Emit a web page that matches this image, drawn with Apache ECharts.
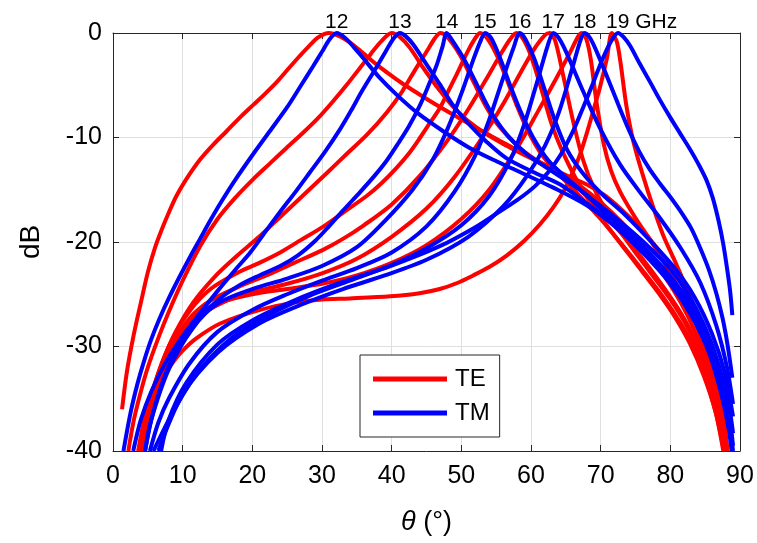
<!DOCTYPE html>
<html>
<head>
<meta charset="utf-8">
<script src="https://cdn.jsdelivr.net/npm/echarts@6/dist/echarts.min.js"></script>
<style>
  html, body { margin: 0; padding: 0; background: #fff; }
  #chart { width: 757px; height: 543px; }
</style>
</head>
<body>
<div id="chart"></div>
<script>
// Reflection (dB) versus incidence angle, TE and TM, 12–19 GHz
const freqs = ['12', '13', '14', '15', '16', '17', '18', '19'];
const peakAngles = [32.1, 41.2, 47.9, 53.4, 58.4, 63.2, 67.7, 72.5];

const te12 = [[1.3,-36],[2,-32.4],[3,-28.8],[4,-25.8],[5,-22.9],[6,-20.6],[7,-18.8],[8,-17.2],[9.1,-15.6],[10.5,-14],[12.5,-12.1],[14.5,-10.6],[16.3,-9.4],[18.2,-8.1],[20.1,-6.9],[22,-5.7],[23.5,-4.7],[25.2,-3.4],[26.8,-2.2],[28.2,-1.2],[29.5,-0.4],[31,0],[32.5,-0.3],[34,-0.9],[35.5,-1.7],[37.8,-3],[40,-4.1],[41.7,-4.9],[45.5,-6.5],[48.8,-7.8],[52.2,-9.1],[55.5,-10.3],[58.8,-11.5],[62,-12.6],[65,-13.6],[68,-14.5],[70.5,-15.5],[73,-16.9],[75.6,-18.6],[78,-20.5],[80.2,-22.5],[82.2,-24.7],[84,-27.2],[85.5,-29.8],[86.7,-32.8],[87.5,-35.8],[88.2,-40]];
const te13 = [[2.2,-40],[3,-37],[4,-34.3],[5,-32],[6.5,-29.2],[8,-26.7],[10,-23.7],[12.5,-20.4],[15,-17.8],[17.5,-15.8],[20.1,-14],[22.5,-12.5],[24.9,-11],[27.2,-9.6],[29.5,-8.1],[31.5,-6.6],[33.5,-5],[35.5,-3.3],[37,-2],[38.5,-0.8],[40,0],[41.2,-0.4],[42.6,-1.4],[44.5,-3.3],[46.9,-5.5],[49.3,-7.4],[52.5,-9.2],[56.5,-10.8],[60.3,-12.1],[64,-13.3],[67,-14.6],[70,-16.2],[73,-18.1],[76,-20.4],[79,-23.1],[81.5,-25.8],[83.5,-28.5],[85.3,-31.6],[86.8,-35.3],[87.9,-40]];
const te14 = [[3.6,-40],[4.5,-37],[5.5,-34.6],[7,-31.6],[9,-28.6],[11.5,-25.8],[14.5,-23.4],[17.5,-21.5],[20.8,-19.6],[24,-17.6],[27.5,-15.4],[30.7,-13.4],[33.5,-11.6],[36.5,-9.7],[39.3,-7.6],[41.5,-5.6],[43.3,-3.6],[45,-1.8],[46.2,-0.5],[47,0],[48,-0.4],[49.8,-2.1],[51.7,-4.6],[53.6,-7.1],[55.5,-9],[58.4,-11],[61.3,-12.4],[64.2,-13.5],[67,-15],[70,-17],[73,-19.2],[76,-21.6],[79,-24.3],[81.5,-26.8],[83.5,-29.3],[85.2,-32.3],[86.7,-35.8],[87.8,-40]];
const te15 = [[3.8,-40],[5,-36],[6.5,-32.6],[8.5,-29.3],[11,-26.6],[14,-24.5],[18,-22.9],[21,-22],[24,-21],[27,-19.8],[30,-18.6],[33,-17.2],[36.4,-15.6],[38.5,-14.4],[40.7,-12.9],[42.5,-11.5],[44.1,-10],[45.5,-8.6],[46.9,-7.2],[48.1,-5.6],[49.3,-4],[50.3,-2.6],[51.2,-1.4],[52,-0.5],[52.7,0],[53.7,-0.5],[55,-2],[56.5,-4.4],[58,-7],[59.5,-9.3],[61.5,-11.6],[64,-13.5],[67,-15.6],[70,-17.8],[73,-20.2],[76,-22.7],[79,-25.3],[81.5,-27.8],[83.5,-30.2],[85.1,-33],[86.6,-36.5],[87.7,-40]];
const te16 = [[4,-40],[5,-36.5],[6.5,-33],[8.5,-29.9],[11,-27.3],[14,-25.6],[18,-24.3],[22,-23.2],[26,-22],[30,-20.8],[33,-19.7],[36,-18.4],[40,-16.4],[44,-13.7],[48,-10.3],[51,-7.3],[53.5,-4.5],[55.5,-2.2],[57,-0.6],[57.9,0],[58.8,-0.5],[60,-2.2],[61.5,-5.4],[63,-8.8],[64.5,-11.3],[66.5,-14],[69,-16.7],[72,-19.4],[75,-22],[78,-24.6],[80.5,-27],[82.8,-29.7],[84.8,-32.8],[86.5,-36.3],[87.6,-40]];
const te17 = [[4,-40],[5.2,-36.5],[6.8,-33],[9,-29.8],[12,-27.3],[16,-25.7],[20,-24.8],[25,-24],[30,-23],[35,-21.6],[40,-19.5],[45,-16.8],[49,-13.8],[53,-10],[56,-6.8],[58.5,-3.8],[60.5,-1.5],[62,-0.2],[62.7,0],[63.5,-0.8],[64.6,-4],[66.1,-8.6],[67.5,-12.2],[69,-14.8],[71,-17.2],[74,-20.1],[77,-22.8],[80,-25.5],[82.5,-28.2],[84.5,-31],[86.1,-34.2],[87.3,-37.5],[87.9,-40]];
const te18 = [[3.8,-40],[5,-36.5],[6.5,-33],[8.5,-30],[11,-27.6],[15,-25.9],[20,-25],[25,-24.5],[30,-24],[35,-23.2],[40,-22],[45,-20.3],[50,-17.8],[54,-15],[58,-11],[61,-7.5],[63.5,-4.5],[65.5,-2],[66.8,-0.3],[67.3,0],[68,-0.7],[68.6,-2.6],[69.4,-6.6],[70.4,-10.5],[71.5,-13.2],[72.8,-15.2],[75,-17.7],[77.5,-20.2],[80,-23],[82.5,-26],[84.5,-29.3],[86.1,-33],[87.3,-36.8],[88,-40]];
const te19 = [[3.9,-40],[4.8,-37],[5.8,-34.8],[7,-33],[8.5,-31.6],[10,-30.4],[12,-29.2],[15.4,-27.8],[21.1,-26.5],[26,-25.8],[30,-25.5],[34,-25.4],[39.8,-25.2],[44,-24.9],[46.9,-24.5],[49.5,-23.9],[51.7,-23.2],[54,-22.4],[56.5,-21.3],[59,-19.9],[61.3,-18.3],[63.3,-16.6],[64.8,-15],[66,-13.3],[67,-11.7],[68,-9.6],[69,-7.3],[69.9,-5.2],[70.9,-2.4],[71.6,0],[72.3,-0.8],[72.8,-2.6],[73.7,-7],[74.7,-10.4],[76.1,-13.7],[77.5,-16.6],[79,-19.4],[80.9,-22.2],[83,-25.5],[84.8,-29],[86.3,-33],[87.5,-37],[88.2,-40]];

const tm12 = [[1.5,-40],[2.5,-36.4],[3.5,-33.6],[4.5,-31.3],[5.5,-29.3],[6.7,-27.3],[8,-25.4],[9.5,-23.4],[11,-21.5],[12.5,-19.7],[14,-17.9],[15.5,-16.2],[17.5,-14.1],[20,-11.7],[22.5,-9.4],[25,-7.1],[27,-5],[28.7,-3.2],[30,-1.8],[31.1,-0.6],[32.1,0],[33.2,-0.4],[34.5,-1.3],[35.9,-2.4],[38.3,-4.3],[40.7,-5.9],[43.6,-7.6],[47.4,-9.4],[51.2,-11],[55.1,-12.3],[58.4,-13.3],[63.2,-14.8],[68,-16.5],[72,-18.5],[76,-21],[80,-24],[83,-27],[85.5,-30.5],[87.3,-34.5],[88.4,-38],[88.8,-40]];
const tm13 = [[2.9,-40],[4,-37],[5.5,-34.3],[7.5,-31.6],[10,-29],[12.5,-26.8],[15,-24.7],[17.5,-22.7],[19.7,-21],[22,-18.9],[24,-17.1],[26.2,-15.2],[28.3,-13.3],[30.5,-11.3],[32.6,-9.2],[34.2,-7.4],[35.7,-5.6],[37.8,-3.3],[39.2,-1.7],[40.3,-0.5],[41.2,0],[42,-0.3],[43.1,-1.1],[45,-3],[46.9,-4.9],[48.8,-6.9],[51.2,-8.8],[53.6,-10.4],[56.5,-12],[60.3,-13.3],[64.2,-14.5],[68,-16.3],[72,-18.3],[76,-20.7],[80,-23.5],[83,-26.4],[85.5,-29.8],[87.3,-33.6],[88.5,-37.5],[89,-40]];
const tm14 = [[4.6,-40],[5.5,-37],[7,-33.6],[9,-30.5],[12,-27.6],[15,-25.6],[18,-24.2],[21,-23.2],[24,-22.3],[26.5,-21.3],[29,-19.9],[31,-18.5],[33,-17],[35.5,-15.2],[37.5,-13.7],[39.3,-12.2],[41,-10.5],[42.5,-8.9],[44,-7],[45.3,-5],[46.5,-3],[47.3,-1.3],[47.9,0],[48.6,-0.6],[50.3,-2.4],[52.2,-4.9],[54.1,-7.4],[56.5,-9.7],[59.4,-11.6],[63.2,-13.3],[67,-15],[71,-17.4],[75,-19.7],[79,-22.5],[82.5,-25.6],[85.3,-29.2],[87.3,-33],[88.5,-36.8],[89,-39.5]];
const tm15 = [[4.6,-40],[5.5,-37],[8,-32.2],[11.5,-28.2],[15,-25.9],[20,-24.5],[25,-23.5],[30,-22.3],[35,-20.5],[39,-18],[43,-15],[46,-12],[48,-9.2],[50,-5.8],[51.8,-2.4],[52.8,-0.7],[53.4,0],[54.3,-0.5],[55.5,-2.3],[57,-5],[58.5,-7.5],[60.3,-10],[62.5,-12.2],[65,-13.8],[68,-15.5],[72,-17.6],[76,-19.9],[80,-22.6],[83,-25.5],[85.5,-29],[87.4,-32.8],[88.5,-36],[89,-38.3]];
const tm16 = [[5.3,-40],[6.5,-37.3],[8,-35],[11,-31.6],[15,-28.6],[20,-26.5],[25,-25],[30,-23.7],[35,-22.5],[40,-21],[45,-18.5],[49,-15.2],[52,-11.7],[54,-8.3],[56,-4.3],[57.5,-1.4],[58.4,0],[59.2,-0.6],[60.5,-2.5],[62,-5.5],[63.5,-8.5],[65.2,-11.2],[67.3,-13.3],[70,-15.3],[73.5,-17.4],[77,-19.8],[80.5,-22.4],[83.5,-25.3],[86,-28.8],[87.8,-32.5],[89,-36.7]];
const tm17 = [[5.8,-40],[8.5,-36.4],[12,-32.6],[17,-29.2],[22,-27.1],[28,-25.2],[34,-23.7],[40,-22.2],[45,-20.6],[50,-18.4],[54,-15.6],[57,-12.2],[59,-8.8],[61,-4.4],[62.4,-1.2],[63.2,0],[64,-0.5],[65.1,-1.9],[67.5,-5.6],[69.9,-9.1],[72.8,-12.6],[75.6,-15.2],[78.5,-17.7],[81.5,-20.6],[84.3,-23.9],[86.6,-28],[88.1,-31.9],[89,-35.5]];
const tm18 = [[6.5,-40],[10,-34.6],[15,-30.6],[21,-27.8],[27,-26],[33,-24.5],[39,-23.2],[45,-21.7],[51,-19.5],[56,-16.6],[59.5,-13.6],[62,-10.8],[64,-7.6],[66,-3.2],[67.1,-0.7],[67.7,0],[68.5,-0.5],[69.5,-1.9],[71,-4.3],[72.5,-6.8],[74,-9.2],[75.5,-11.3],[77,-13],[78.5,-14.4],[80,-15.7],[81.5,-17.1],[83,-18.7],[84.3,-20.6],[85.5,-22.6],[86.6,-24.9],[87.5,-27.3],[88.2,-29.8],[88.9,-33]];
const tm19 = [[6.9,-40],[8,-37],[10.5,-33.5],[15,-29.8],[20,-27.5],[26,-25.6],[32.6,-23.9],[39.8,-22.3],[46.9,-20.4],[51.7,-18.7],[55,-17.3],[58,-16],[60.5,-14.7],[62.5,-13.3],[64.3,-11.6],[66.1,-9.3],[67.5,-7.1],[68.9,-4.8],[70.2,-2.6],[71.4,-0.9],[72.5,0],[73.3,-0.4],[74.2,-1.2],[75.5,-2.8],[77.1,-4.7],[78.5,-6.4],[80,-8.1],[81.4,-9.6],[82.8,-11.1],[84,-12.5],[85.2,-14.1],[86.1,-15.8],[86.9,-17.9],[87.6,-20.2],[88.2,-22.8],[88.6,-24.8],[88.9,-27]];

const teCurves = [te12, te13, te14, te15, te16, te17, te18, te19];
const tmCurves = [tm12, tm13, tm14, tm15, tm16, tm17, tm18, tm19];

const FONT = '"Liberation Sans", Arial, Helvetica, sans-serif';
const AXIS_COLOR = '#262626';

function curveSeries(name, color, data) {
  return {
    name: name,
    type: 'line',
    data: data,
    color: color,
    showSymbol: false,
    smooth: 0.3,
    lineStyle: { color: color, width: 4 },
    emphasis: { disabled: true },
    silent: true
  };
}

const series = [];
teCurves.forEach(d => series.push(curveSeries('TE', '#ff0000', d)));
tmCurves.forEach(d => series.push(curveSeries('TM', '#0000ff', d)));

// frequency tags above each resonance peak
series.push({
  type: 'scatter',
  data: peakAngles.map((a, i) => ({
    value: [a, 0],
    label: i === freqs.length - 1
      ? { formatter: freqs[i] + ' GHz', align: 'left', offset: [-12, 0] }
      : { formatter: freqs[i] }
  })),
  symbolSize: 0,
  itemStyle: { opacity: 1 },
  silent: true,
  clip: false,
  z: 10,
  label: {
    show: true,
    position: 'top',
    distance: 0,
    color: '#000',
    opacity: 1,
    fontSize: 21,
    fontFamily: FONT
  }
});

const chart = echarts.init(document.getElementById('chart'), null, { renderer: 'canvas' });
chart.setOption({
  animation: false,
  backgroundColor: '#fff',
  grid: { left: 113, right: 17, top: 33, bottom: 92, containLabel: false },
  legend: {
    data: [{ name: 'TE', icon: 'rect' }, { name: 'TM', icon: 'rect' }],
    orient: 'vertical',
    left: 360,
    top: 355,
    itemWidth: 74,
    itemHeight: 5,
    itemGap: 10,
    padding: [12, 10, 12, 13],
    borderColor: AXIS_COLOR,
    borderWidth: 1,
    backgroundColor: '#fff',
    selectedMode: false,
    textStyle: { fontSize: 24, fontFamily: FONT, color: '#000', padding: [0, 0, 0, 3] }
  },
  xAxis: [{
    type: 'value',
    min: 0, max: 90, interval: 10,
    name: '{i|θ} (°)',
    nameLocation: 'middle',
    nameGap: 58,
    nameTextStyle: {
      fontSize: 27, fontFamily: FONT, color: '#000',
      rich: { i: { fontStyle: 'italic', fontSize: 27, fontFamily: FONT, color: '#000' } }
    },
    axisLine: { show: true, onZero: false, lineStyle: { color: AXIS_COLOR, width: 1 } },
    axisTick: { show: true, inside: true, length: 6, lineStyle: { color: AXIS_COLOR } },
    axisLabel: { fontSize: 25, fontFamily: FONT, color: '#000', margin: 13 },
    splitLine: { show: true, lineStyle: { color: '#dfdfdf', width: 1 } }
  }, {
    type: 'value', position: 'top',
    min: 0, max: 90, interval: 10,
    axisLine: { show: true, onZero: false, lineStyle: { color: AXIS_COLOR, width: 1 } },
    axisTick: { show: true, inside: true, length: 6, lineStyle: { color: AXIS_COLOR } },
    axisLabel: { show: false },
    splitLine: { show: false }
  }],
  yAxis: [{
    type: 'value',
    min: -40, max: 0, interval: 10,
    name: 'dB',
    nameLocation: 'middle',
    nameGap: 68,
    nameRotate: 90,
    nameTextStyle: { fontSize: 28, fontFamily: FONT, color: '#000' },
    axisLine: { show: true, onZero: false, lineStyle: { color: AXIS_COLOR, width: 1 } },
    axisTick: { show: true, inside: true, length: 6, lineStyle: { color: AXIS_COLOR } },
    axisLabel: { fontSize: 25, fontFamily: FONT, color: '#000', margin: 11 },
    splitLine: { show: true, lineStyle: { color: '#dfdfdf', width: 1 } }
  }, {
    type: 'value', position: 'right',
    min: -40, max: 0, interval: 10,
    axisLine: { show: true, onZero: false, lineStyle: { color: AXIS_COLOR, width: 1 } },
    axisTick: { show: true, inside: true, length: 6, lineStyle: { color: AXIS_COLOR } },
    axisLabel: { show: false },
    splitLine: { show: false }
  }],
  series: series
});
</script>
</body>
</html>
